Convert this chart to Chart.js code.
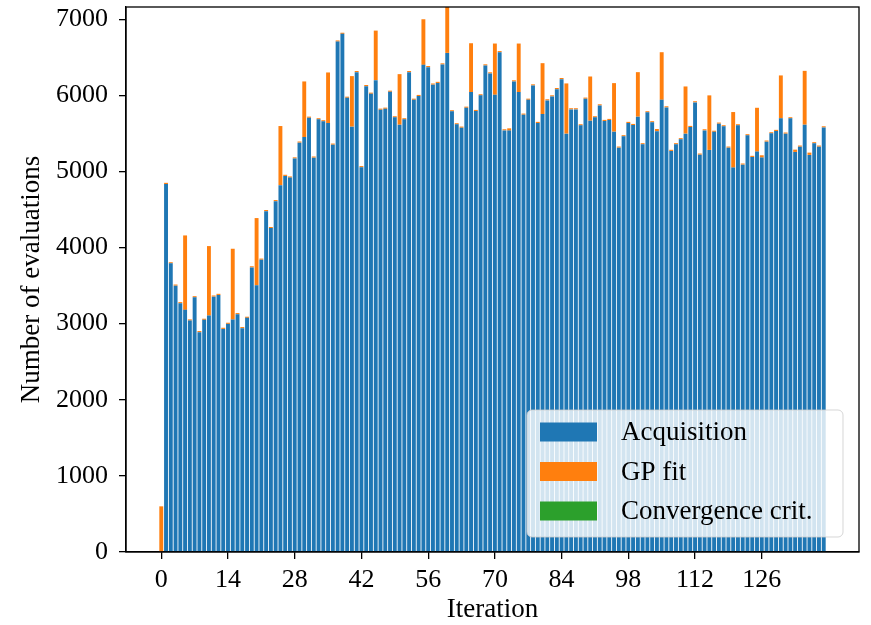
<!DOCTYPE html>
<html>
<head>
<meta charset="utf-8">
<script src="https://cdn.jsdelivr.net/npm/chart.js@4.4.1/dist/chart.umd.min.js"></script>
<style>
  html, body { margin: 0; padding: 0; background: #fff; }
  #wrap { width: 871px; height: 625px; }
</style>
</head>
<body>
<div id="wrap"><canvas id="barChart" width="871" height="625"></canvas></div>
<script>
// iteration index 0..139
const iterations = [
  0, 1, 2, 3, 4, 5, 6, 7, 8, 9, 10, 11, 12, 13, 14, 15, 16, 17, 18, 19,
  20, 21, 22, 23, 24, 25, 26, 27, 28, 29, 30, 31, 32, 33, 34, 35, 36, 37, 38, 39,
  40, 41, 42, 43, 44, 45, 46, 47, 48, 49, 50, 51, 52, 53, 54, 55, 56, 57, 58, 59,
  60, 61, 62, 63, 64, 65, 66, 67, 68, 69, 70, 71, 72, 73, 74, 75, 76, 77, 78, 79,
  80, 81, 82, 83, 84, 85, 86, 87, 88, 89, 90, 91, 92, 93, 94, 95, 96, 97, 98, 99,
  100, 101, 102, 103, 104, 105, 106, 107, 108, 109, 110, 111, 112, 113, 114, 115, 116, 117, 118, 119,
  120, 121, 122, 123, 124, 125, 126, 127, 128, 129, 130, 131, 132, 133, 134, 135, 136, 137, 138, 139
];

const acquisition = [
  0, 4835, 3792, 3499, 3268, 3181, 3041, 3346, 2888, 3050,
  3106, 3355, 3377, 2931, 2997, 3054, 3124, 2940, 3076, 3739,
  3504, 3840, 4478, 4255, 4609, 4819, 4941, 4919, 5170, 5378,
  5452, 5705, 5181, 5684, 5658, 5636, 5351, 6706, 6807, 5967,
  5588, 6304, 5055, 6120, 6020, 6199, 5810, 5823, 6046, 5710,
  5614, 5684, 6304, 5941, 5990, 6400, 6370, 6140, 6162, 6405,
  6557, 5789, 5618, 5574, 5836, 6042, 5793, 5999, 6392, 6287,
  6007, 6566, 5539, 5536, 6182, 6042, 5745, 5941, 6129, 5636,
  5753, 5933, 5985, 6081, 6212, 5496, 5815, 5815, 5605, 5955,
  5666, 5710, 5867, 5662, 5675, 5522, 5312, 5461, 5636, 5609,
  5719, 5356, 5776, 5645, 5527, 5941, 5841, 5269, 5356, 5422,
  5496, 5583, 5907, 5220, 5539, 5282, 5520, 5627, 5592, 5312,
  5050, 5605, 5089, 5474, 5190, 5260, 5182, 5391, 5500, 5531,
  5697, 5496, 5697, 5256, 5325, 5614, 5217, 5369, 5325, 5578
];

const gpFit = [
  600, 15, 15, 15, 15, 978, 15, 15, 15, 15,
  913, 15, 15, 15, 15, 930, 15, 15, 15, 15,
  883, 15, 15, 15, 15, 777, 15, 15, 15, 15,
  730, 15, 15, 15, 15, 664, 15, 15, 15, 15,
  664, 15, 15, 15, 15, 651, 15, 15, 15, 15,
  664, 15, 15, 15, 15, 599, 15, 15, 15, 15,
  800, 15, 15, 15, 15, 642, 15, 15, 15, 15,
  673, 15, 15, 30, 15, 638, 15, 15, 15, 15,
  669, 15, 15, 15, 15, 660, 15, 15, 15, 15,
  581, 15, 15, 15, 15, 638, 15, 15, 15, 15,
  585, 15, 15, 15, 30, 625, 15, 15, 15, 15,
  620, 15, 15, 15, 15, 717, 15, 15, 15, 15,
  730, 15, 15, 15, 15, 576, 30, 15, 15, 15,
  564, 15, 15, 30, 15, 707, 30, 15, 15, 15
];

const convergence = [
  0, 0, 0, 0, 0, 0, 0, 0, 0, 0, 0, 0, 0, 0, 0, 0, 0, 0, 0, 0,
  0, 0, 0, 0, 0, 0, 0, 0, 0, 0, 0, 0, 0, 0, 0, 0, 0, 0, 0, 0,
  0, 0, 0, 0, 0, 0, 0, 0, 0, 0, 0, 0, 0, 0, 0, 0, 0, 0, 0, 0,
  0, 0, 0, 0, 0, 0, 0, 0, 0, 0, 0, 0, 0, 0, 0, 0, 0, 0, 0, 0,
  0, 0, 0, 0, 0, 0, 0, 0, 0, 0, 0, 0, 0, 0, 0, 0, 0, 0, 0, 0,
  0, 0, 0, 0, 0, 0, 0, 0, 0, 0, 0, 0, 0, 0, 0, 0, 0, 0, 0, 0,
  0, 0, 0, 0, 0, 0, 0, 0, 0, 0, 0, 0, 0, 0, 0, 0, 0, 0, 0, 0
];

const xTicks = [0, 14, 28, 42, 56, 70, 84, 98, 112, 126];
const yTicks = [0, 1000, 2000, 3000, 4000, 5000, 6000, 7000];

const serif = "'Liberation Serif', 'DejaVu Serif', serif";
const tickFont = { family: serif, size: 26, lineHeight: 1 };
const labelFont = { family: serif, size: 27, lineHeight: 1 };

function pts(values) {
    return iterations.map((x, i) => ({ x: x, y: values[i] }));
}

// frame on all four sides + legend box inside the plot
const framePlugin = {
    id: 'frame',
    afterDatasetsDraw(chart) {
        const { ctx, chartArea: a } = chart;
        ctx.save();
        ctx.strokeStyle = '#000';
        ctx.lineWidth = 1.3;
        ctx.strokeRect(a.left, a.top, a.right - a.left, a.bottom - a.top);

        // legend
        const bx = 527, by = 410, bw = 316, bh = 127, r = 5;
        ctx.beginPath();
        ctx.roundRect(bx, by, bw, bh, r);
        ctx.fillStyle = 'rgba(255,255,255,0.8)';
        ctx.fill();
        ctx.strokeStyle = 'rgba(204,204,204,0.8)';
        ctx.lineWidth = 1;
        ctx.stroke();

        ctx.font = '27px ' + serif;
        ctx.textBaseline = 'middle';
        ctx.textAlign = 'left';
        chart.data.datasets.forEach((ds, i) => {
            const cy = 432 + i * 39.5;
            ctx.fillStyle = ds.backgroundColor;
            ctx.fillRect(540, cy - 9.5, 57, 19);
            ctx.fillStyle = '#000';
            ctx.fillText(ds.label, 621, cy + 1);
        });
        ctx.restore();
    }
};

document.addEventListener("DOMContentLoaded", function () {
    const ctx = document.getElementById('barChart').getContext('2d');
    new Chart(ctx, {
        type: 'bar',
        data: {
            datasets: [
                { label: 'Acquisition', data: pts(acquisition), backgroundColor: '#1f77b4' },
                { label: 'GP fit', data: pts(gpFit), backgroundColor: '#ff7f0e' },
                { label: 'Convergence crit.', data: pts(convergence), backgroundColor: '#2ca02c' }
            ]
        },
        options: {
            responsive: false,
            animation: false,
            layout: { padding: { top: 7, right: 12, left: 0, bottom: 0 } },
            datasets: { bar: { barPercentage: 0.82, categoryPercentage: 1, clip: 0, borderWidth: 0 } },
            plugins: { legend: { display: false }, tooltip: { enabled: false } },
            scales: {
                x: {
                    type: 'linear',
                    min: -7.4,
                    max: 146.4,
                    stacked: true,
                    offset: false,
                    afterBuildTicks: s => { s.ticks = xTicks.map(v => ({ value: v })); },
                    grid: { offset: false, drawOnChartArea: false, tickLength: 7, color: '#000', lineWidth: 1.3 },
                    border: { color: '#000', width: 1.3 },
                    ticks: { font: tickFont, color: '#000', padding: 8, maxRotation: 0, autoSkip: false,
                             callback: v => String(v) },
                    title: { display: true, text: 'Iteration', font: labelFont, color: '#000',
                             padding: { top: 0, bottom: 2 } },
                    afterFit: s => { s.height = 73; s.paddingLeft = 0; s.paddingRight = 0; }
                },
                y: {
                    min: 0,
                    max: 7160,
                    stacked: true,
                    afterBuildTicks: s => { s.ticks = yTicks.map(v => ({ value: v })); },
                    grid: { drawOnChartArea: false, tickLength: 7, color: '#000', lineWidth: 1.3 },
                    border: { color: '#000', width: 1.3 },
                    ticks: { font: tickFont, color: '#000', padding: 11, callback: v => String(v) },
                    title: { display: true, text: 'Number of evaluations', font: labelFont, color: '#000',
                             padding: { top: 18, bottom: 0 } },
                    afterFit: s => { s.width = 126; s.paddingTop = 0; s.paddingBottom = 0; }
                }
            }
        },
        plugins: [framePlugin]
    });
});
</script>
</body>
</html>
